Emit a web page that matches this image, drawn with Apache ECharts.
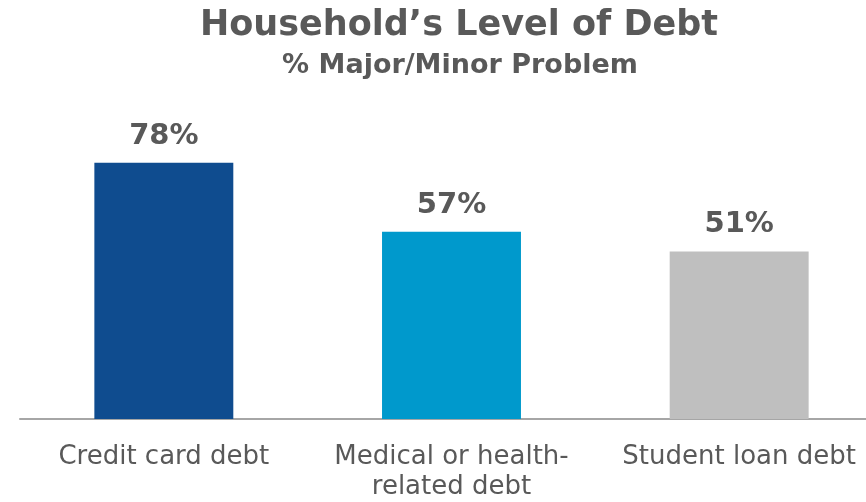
<!DOCTYPE html>
<html><head><meta charset="utf-8">
<script src="https://cdn.jsdelivr.net/npm/echarts@6/dist/echarts.min.js"></script>
<style>html,body{margin:0;padding:0;background:#fff;overflow:hidden}#c{width:883px;height:502px}</style>
</head><body><div id="c"></div>
<script>
const categories = ['Credit card debt', 'Medical or health-\nrelated debt', 'Student loan debt'];
const values = [78, 57, 51];
const barColors = ['#0f4c8f', '#0099cc', '#bfbfbf'];
const titleText = 'Household\u2019s Level of Debt';
const subtitleText = '% Major/Minor Problem';

const FONT = 'DejaVu Sans';
const chart = echarts.init(document.getElementById('c'), null, {renderer: 'canvas'});
chart.setOption({
  animation: false,
  title: [
    {text: titleText, left: 454, top: 3, textAlign: 'center',
     textStyle: {fontFamily: FONT, fontWeight: 'bold', fontSize: 35, color: '#595959'}},
    {text: subtitleText, left: 455, top: 47, textAlign: 'center',
     textStyle: {fontFamily: FONT, fontWeight: 'bold', fontSize: 27, color: '#595959'}}
  ],
  grid: {left: 20, top: 90.5, right: 0, height: 329.5, containLabel: false},
  xAxis: {
    type: 'category', data: categories,
    axisLine: {lineStyle: {color: '#a6a6a6', width: 2}},
    axisTick: {show: false},
    axisLabel: {color: '#595959', fontFamily: FONT, fontSize: 26, margin: 23, lineHeight: 30, interval: 0}
  },
  yAxis: {type: 'value', min: 0, max: 100, show: false, splitLine: {show: false}},
  series: [{
    type: 'bar', barWidth: '48.3%',
    data: values.map((v, i) => ({value: v, itemStyle: {color: barColors[i]}})),
    label: {show: true, position: 'top', distance: 12, formatter: '{c}%',
      fontFamily: FONT, fontWeight: 'bold', fontSize: 29, color: '#595959'}
  }]
});
</script></body></html>
